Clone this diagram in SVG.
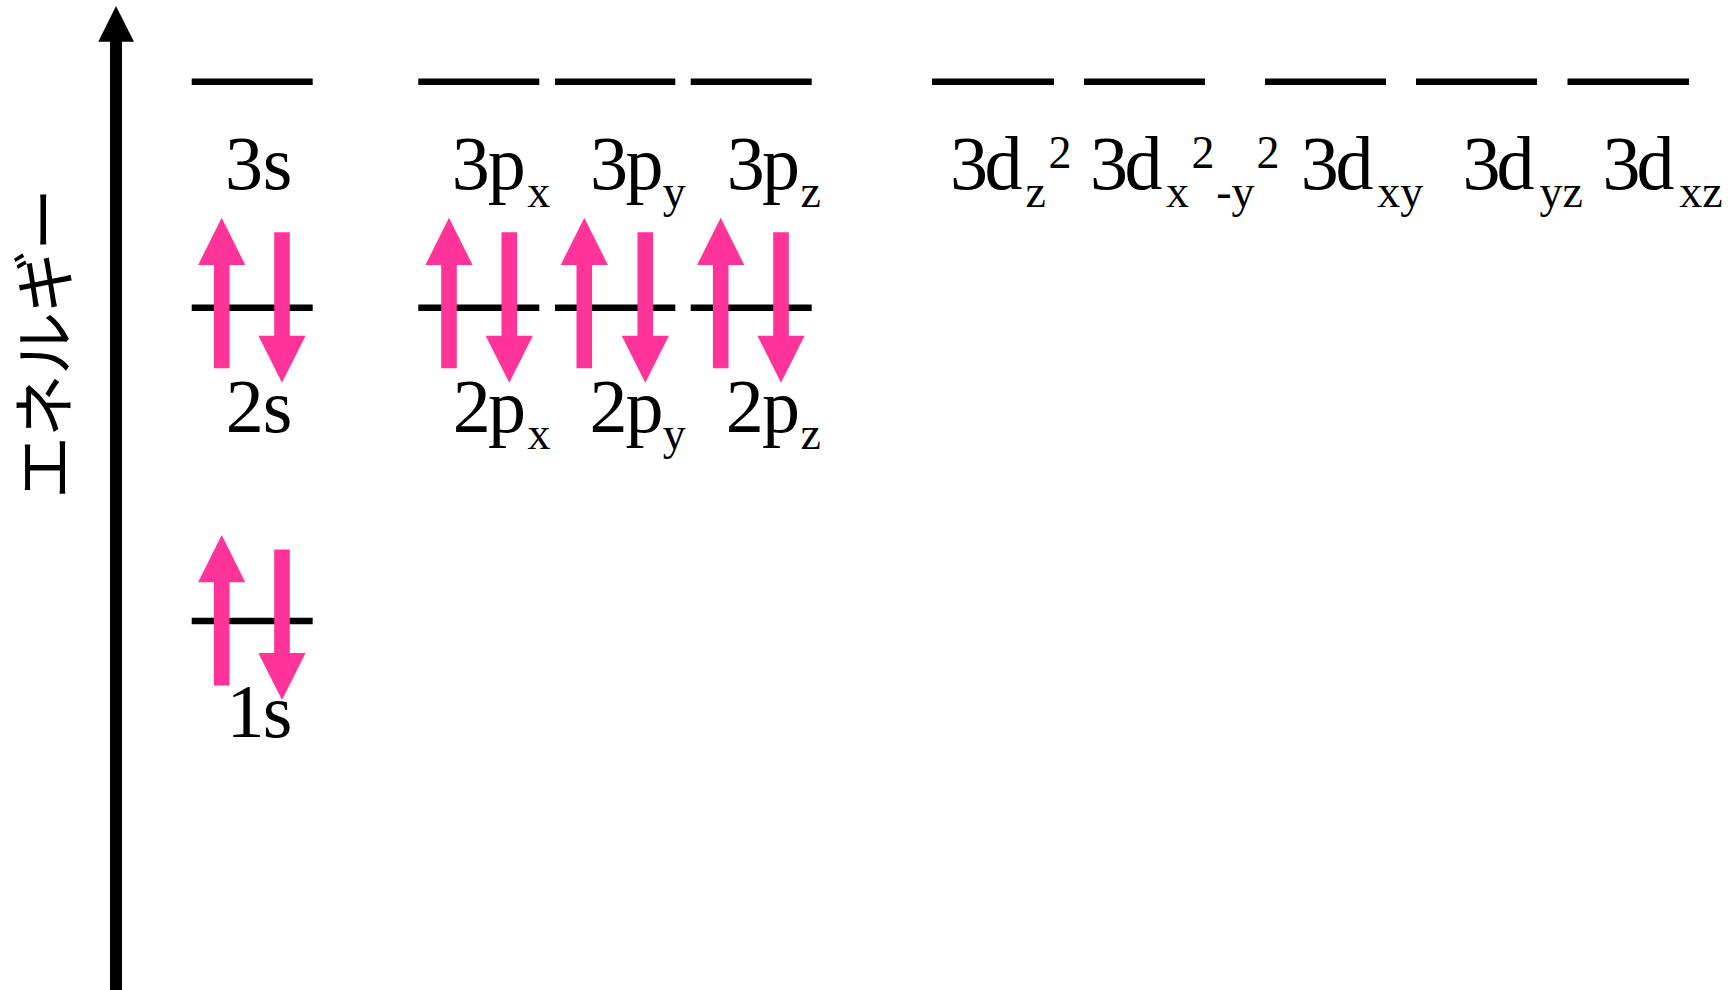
<svg xmlns="http://www.w3.org/2000/svg" xmlns:xlink="http://www.w3.org/1999/xlink" width="1736" height="990" viewBox="0 0 1736 990">
<style>
.lvl{stroke:#000;stroke-width:6.5;fill:none}
.el{fill:#FF3399}
.lb{font-family:"Liberation Serif","Times New Roman",serif;font-size:76px;fill:#000}
.sb{font-size:46px}
.jp{font-family:"Noto Sans CJK JP","Noto Sans",sans-serif;font-size:63px;letter-spacing:-1px;fill:#000}
</style>
<defs>
<path id="up" d="M0,0 L23.6,47.3 L7.8,47.3 L7.8,150.6 L-7.8,150.6 L-7.8,47.3 L-23.6,47.3 Z"/>
<path id="dn" d="M0,0 L23.6,-47 L7.8,-47 L7.8,-150.4 L-7.8,-150.4 L-7.8,-47 L-23.6,-47 Z"/>
</defs>
<rect width="1736" height="990" fill="#fff"/>

<g id="connectors">
<rect x="110" y="41" width="12" height="949" fill="#000"/>
<polygon points="116,6 98.3,41.7 134,41.7" fill="#000"/>
</g>

<g id="axis-label">
<text class="jp" transform="translate(67,344) rotate(-90)" text-anchor="middle">エネルギー</text>
</g>

<g id="n1s">
<line class="lvl" x1="191.7" y1="621" x2="312.7" y2="621"/>
<use href="#up" class="el" x="221.7" y="535"/>
<use href="#dn" class="el" x="282" y="700"/>
<text class="lb" x="226.6 262.8" y="737.3">1s</text>
</g>

<g id="n2s">
<line class="lvl" x1="191.7" y1="307.7" x2="312.7" y2="307.7"/>
<use href="#up" class="el" x="221.7" y="217.7"/>
<use href="#dn" class="el" x="282" y="382.7"/>
<text class="lb" x="225.7 262.8" y="431.7">2s</text>
</g>

<g id="n2px">
<line class="lvl" x1="418.3" y1="307.7" x2="539.3" y2="307.7"/>
<use href="#up" class="el" x="449" y="217.7"/>
<use href="#dn" class="el" x="509.3" y="382.7"/>
<text class="lb" x="452.7 488.1" y="431.7">2p<tspan class="sb" x="527.5" y="448.7">x</tspan></text>
</g>

<g id="n2py">
<line class="lvl" x1="555" y1="307.7" x2="675.3" y2="307.7"/>
<use href="#up" class="el" x="584.3" y="217.7"/>
<use href="#dn" class="el" x="645.3" y="382.7"/>
<text class="lb" x="589.4 625.5" y="431.7">2p<tspan class="sb" x="662.7" y="448.7">y</tspan></text>
</g>

<g id="n2pz">
<line class="lvl" x1="690.7" y1="307.7" x2="811.7" y2="307.7"/>
<use href="#up" class="el" x="720.7" y="217.7"/>
<use href="#dn" class="el" x="781" y="382.7"/>
<text class="lb" x="725.7 762.1" y="431.7">2p<tspan class="sb" x="800.5" y="448.7">z</tspan></text>
</g>

<g id="n3s">
<line class="lvl" x1="191.7" y1="81.7" x2="312.7" y2="81.7"/>
<text class="lb" x="225 262.8" y="189.3">3s</text>
</g>

<g id="n3px">
<line class="lvl" x1="418.3" y1="81.7" x2="539.3" y2="81.7"/>
<text class="lb" x="451.7 487.8" y="189.3">3p<tspan class="sb" x="527.2" y="206.7">x</tspan></text>
</g>

<g id="n3py">
<line class="lvl" x1="555" y1="81.7" x2="675.3" y2="81.7"/>
<text class="lb" x="590 625.5" y="189.3">3p<tspan class="sb" x="662.7" y="206.7">y</tspan></text>
</g>

<g id="n3pz">
<line class="lvl" x1="690.7" y1="81.7" x2="811.7" y2="81.7"/>
<text class="lb" x="726.7 762.1" y="189.3">3p<tspan class="sb" x="800.5" y="206.7">z</tspan></text>
</g>

<g id="n3dz2">
<line class="lvl" x1="932" y1="81.7" x2="1054" y2="81.7"/>
<text class="lb" x="950 984.5" y="189.3">3d<tspan class="sb" x="1025.5" y="206.7">z</tspan><tspan class="sb" x="1048.6" y="168">2</tspan></text>
</g>

<g id="n3dx2y2">
<line class="lvl" x1="1084" y1="81.7" x2="1205" y2="81.7"/>
<text class="lb" x="1090 1124.5" y="189.3">3d<tspan class="sb" x="1165.9" y="206.7">x</tspan><tspan class="sb" x="1191.6" y="168">2</tspan><tspan class="sb" x="1216.2" y="206.7">-y</tspan><tspan class="sb" x="1256.6" y="168">2</tspan></text>
</g>

<g id="n3dxy">
<line class="lvl" x1="1265" y1="81.7" x2="1386" y2="81.7"/>
<text class="lb" x="1300.7 1335.5" y="189.3">3d<tspan class="sb" x="1377.2" y="206.7">xy</tspan></text>
</g>

<g id="n3dyz">
<line class="lvl" x1="1416" y1="81.7" x2="1537" y2="81.7"/>
<text class="lb" x="1462.4 1496.5" y="189.3">3d<tspan class="sb" x="1539.4" y="206.7">yz</tspan></text>
</g>

<g id="n3dxz">
<line class="lvl" x1="1567.5" y1="81.7" x2="1689" y2="81.7"/>
<text class="lb" x="1602.4 1636.5" y="189.3">3d<tspan class="sb" x="1679.2" y="206.7">xz</tspan></text>
</g>
</svg>
